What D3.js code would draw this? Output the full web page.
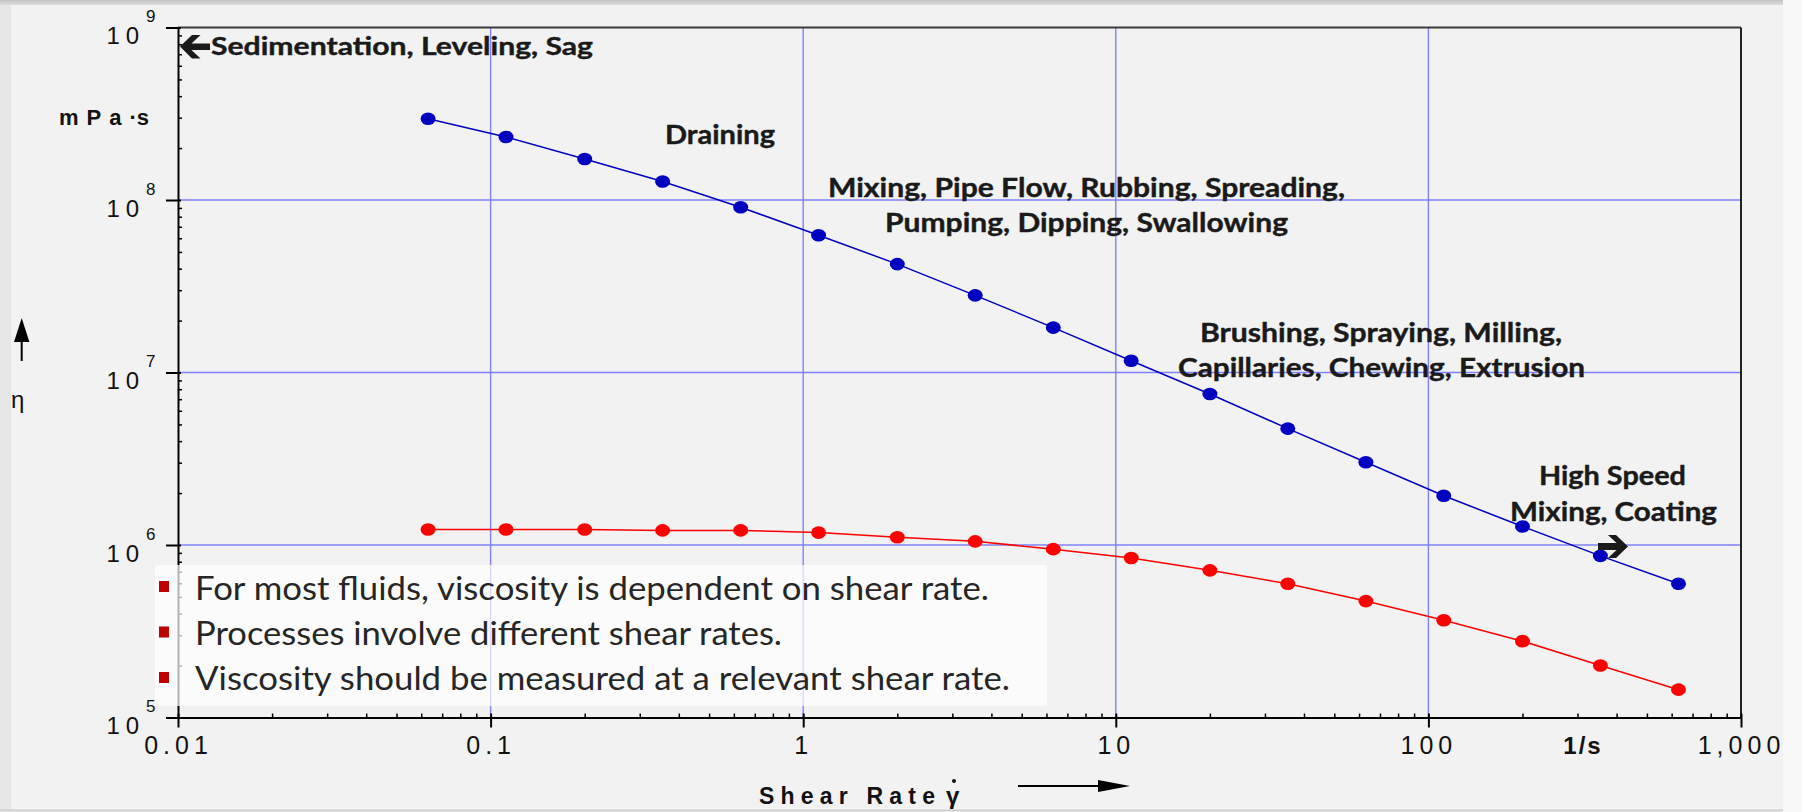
<!DOCTYPE html>
<html>
<head>
<meta charset="utf-8">
<script src="https://cdn.jsdelivr.net/npm/d3@7"></script>
<style>
    body { margin: 0; background: #f8f8f8; }
    svg { display: block; }
</style>
</head>
<body>
<svg id="chart" width="1802" height="812"></svg>
<script>
// shear rate (1/s) of the measuring points
const shearRate = [0.0631, 0.112, 0.2, 0.355, 0.631, 1.12, 2, 3.55, 6.31, 11.2, 20, 35.5, 63.1, 112, 200, 355, 631]
// viscosity in mPa·s
const viscosityBlue = [2.96e8, 2.32e8, 1.73e8, 1.28e8, 9.08e7, 6.25e7, 4.25e7, 2.8e7, 1.82e7, 1.17e7, 7.5e6, 4.73e6, 3.02e6, 1.93e6, 1.28e6, 8.65e5, 5.96e5]
const viscosityRed = [1.23e6, 1.23e6, 1.23e6, 1.215e6, 1.215e6, 1.18e6, 1.11e6, 1.05e6, 9.46e5, 8.4e5, 7.13e5, 5.96e5, 4.73e5, 3.66e5, 2.77e5, 2.0e5, 1.45e5]

const xTickValues = [0.01, 0.1, 1, 10, 100, 1000]
const xTickLabels = ['0.01', '0.1', '1', '10', '100', '1,000']
const yTickValues = [1e5, 1e6, 1e7, 1e8, 1e9]
const yTickExponents = ['5', '6', '7', '8', '9']

const processLabels = [
    'Sedimentation, Leveling, Sag',
    'Draining',
    'Mixing, Pipe Flow, Rubbing, Spreading,',
    'Pumping, Dipping, Swallowing',
    'Brushing, Spraying, Milling,',
    'Capillaries, Chewing, Extrusion',
    'High Speed',
    'Mixing, Coating'
]
const bulletPoints = [
    'For most fluids, viscosity is dependent on shear rate.',
    'Processes involve different shear rates.',
    'Viscosity should be measured at a relevant shear rate.'
]

const W = 1802
const H = 812
const margin = { left: 178, right: 61, top: 27.5, bottom: 94.5 }
const axisFont = '"Liberation Sans", Arial, sans-serif'
const noteFont = 'Lato, "Open Sans", sans-serif'

const svg = d3.select('#chart')

// slide background
const defs = svg.append('defs')
const grad = defs.append('linearGradient').attr('id', 'topband')
    .attr('x1', 0).attr('y1', 0).attr('x2', 0).attr('y2', 1)
grad.append('stop').attr('offset', '0%').attr('stop-color', '#c4c4c4')
grad.append('stop').attr('offset', '100%').attr('stop-color', '#dcdcdc')

svg.append('rect').attr('width', W).attr('height', H).attr('fill', '#f8f8f8')
svg.append('rect').attr('width', 1783).attr('height', 810).attr('fill', '#f2f2f2')
svg.append('rect').attr('width', 11).attr('height', 810).attr('fill', '#e6e6e6')
svg.append('rect').attr('width', 1783).attr('height', 5).attr('fill', 'url(#topband)')
svg.append('rect').attr('y', 809.5).attr('width', 1783).attr('height', 2).attr('fill', '#d0d0d0')

const x = d3.scaleLog().domain([0.01, 1000]).range([margin.left, W - margin.right])
const y = d3.scaleLog().domain([1e5, 1e9]).range([H - margin.bottom, margin.top])

// grid
const grid = svg.append('g').attr('stroke', '#8080ff').attr('stroke-width', 1.4)
grid.selectAll('.vgrid')
    .data(xTickValues.slice(1, -1))
    .join('line')
        .attr('x1', d => x(d)).attr('x2', d => x(d))
        .attr('y1', y(1e9)).attr('y2', y(1e5))
grid.selectAll('.hgrid')
    .data(yTickValues.slice(1, -1))
    .join('line')
        .attr('x1', x(0.01)).attr('x2', x(1000))
        .attr('y1', d => y(d)).attr('y2', d => y(d))

// frame top / right
svg.append('line')
    .attr('x1', x(0.01)).attr('x2', x(1000)).attr('y1', y(1e9)).attr('y2', y(1e9))
    .attr('stroke', '#3a3a3a').attr('stroke-width', 2)
svg.append('line')
    .attr('x1', x(1000)).attr('x2', x(1000)).attr('y1', y(1e9)).attr('y2', y(1e5))
    .attr('stroke', '#222').attr('stroke-width', 2)

// minor ticks, 2..9 in each decade
const minorX = x.ticks().filter(d => !xTickValues.includes(d))
const minorY = y.ticks().filter(d => !yTickValues.includes(d))

const gxMinor = svg.append('g')
    .attr('transform', `translate(0,${y(1e5)})`)
    .call(d3.axisBottom(x).tickValues(minorX).tickFormat('').tickSizeInner(-4).tickSizeOuter(0))
gxMinor.select('.domain').remove()
gxMinor.selectAll('.tick line').attr('stroke', '#000').attr('stroke-width', 1.5)

const gyMinor = svg.append('g')
    .attr('transform', `translate(${x(0.01)},0)`)
    .call(d3.axisLeft(y).tickValues(minorY).tickFormat('').tickSizeInner(-4).tickSizeOuter(0))
gyMinor.select('.domain').remove()
gyMinor.selectAll('.tick line').attr('stroke', '#000').attr('stroke-width', 1.5)

// x axis
const gx = svg.append('g')
    .attr('transform', `translate(0,${y(1e5)})`)
    .call(d3.axisBottom(x)
        .tickValues(xTickValues)
        .tickFormat((d, i) => xTickLabels[i])
        .tickSizeInner(10).tickSizeOuter(0))
gx.select('.domain').attr('stroke', '#000').attr('stroke-width', 2)
gx.selectAll('.tick line').attr('y1', -4).attr('stroke', '#000').attr('stroke-width', 2)
gx.selectAll('.tick text')
    .attr('y', 36.5).attr('dy', null)
    .attr('fill', '#111')
    .style('font-family', axisFont).style('font-size', '25px').style('letter-spacing', '5px')

// y axis
const gy = svg.append('g')
    .attr('transform', `translate(${x(0.01)},0)`)
    .call(d3.axisLeft(y).tickValues(yTickValues).tickFormat('').tickSizeInner(12).tickSizeOuter(0))
gy.select('.domain').attr('stroke', '#000').attr('stroke-width', 2)
gy.selectAll('.tick line').attr('x1', 3).attr('stroke', '#000').attr('stroke-width', 2)

const yLabels = svg.append('g').attr('fill', '#111').style('font-family', axisFont)
yLabels.selectAll('.base')
    .data(yTickValues)
    .join('text')
        .attr('x', 106.5).attr('y', d => y(d) + 16.5)
        .style('font-size', '24px').style('letter-spacing', '6px')
        .text('10')
yLabels.selectAll('.exp')
    .data(yTickValues)
    .join('text')
        .attr('x', 146).attr('y', d => y(d) - 5.5)
        .style('font-size', '17px')
        .text((d, i) => yTickExponents[i])

// series
const line = d3.line().x((d, i) => x(shearRate[i])).y(d => y(d))
const series = [
    { values: viscosityBlue, color: '#0000c0' },
    { values: viscosityRed, color: '#ff0000' }
]
series.forEach(s => {
    svg.append('path')
        .datum(s.values)
        .attr('d', line)
        .attr('fill', 'none')
        .attr('stroke', s.color)
        .attr('stroke-width', 1.5)
    svg.append('g').selectAll('ellipse')
        .data(s.values)
        .join('ellipse')
            .attr('cx', (d, i) => x(shearRate[i]))
            .attr('cy', d => y(d))
            .attr('rx', 7.5).attr('ry', 6.3)
            .attr('fill', s.color)
})

// text box with bullets
svg.append('rect')
    .attr('x', 155).attr('y', 565).attr('width', 892).attr('height', 141)
    .attr('fill', '#fff').attr('fill-opacity', 0.7)
const bulletWidths = [794, 587, 815]
const bullets = svg.append('g')
bullets.selectAll('rect')
    .data(bulletPoints)
    .join('rect')
        .attr('x', 159).attr('y', (d, i) => 581 + i * 45.5)
        .attr('width', 10).attr('height', 11)
        .attr('fill', '#c00000')
bullets.selectAll('text')
    .data(bulletPoints)
    .join('text')
        .attr('x', 195).attr('y', (d, i) => 600 + i * 45)
        .attr('textLength', (d, i) => bulletWidths[i])
        .attr('lengthAdjust', 'spacingAndGlyphs')
        .attr('fill', '#262626')
        .style('font-family', noteFont).style('font-size', '32px')
        .text(d => d)

// process annotations
const notePlaces = [
    { x: 211, y: 55, w: 382, size: 24 },
    { x: 665, y: 143.5, w: 110, size: 26 },
    { x: 828, y: 196.7, w: 517, size: 26 },
    { x: 885, y: 232.3, w: 403, size: 26 },
    { x: 1200, y: 341.7, w: 362, size: 26 },
    { x: 1178, y: 377.3, w: 407, size: 26 },
    { x: 1539, y: 485, w: 147, size: 26 },
    { x: 1510, y: 520.5, w: 207, size: 26 }
]
svg.append('g').selectAll('text')
    .data(processLabels)
    .join('text')
        .attr('x', (d, i) => notePlaces[i].x)
        .attr('y', (d, i) => notePlaces[i].y)
        .attr('textLength', (d, i) => notePlaces[i].w)
        .attr('lengthAdjust', 'spacingAndGlyphs')
        .attr('fill', '#1a1a1a')
        .attr('stroke', '#1a1a1a').attr('stroke-width', 0.4)
        .style('font-family', noteFont).style('font-weight', 700)
        .style('font-size', (d, i) => notePlaces[i].size + 'px')
        .text(d => d)

// bold arrows next to the outer annotations
svg.append('path')
    .attr('d', 'M180,46.5 L192,35 L200.5,35 L191.5,43.5 L210,43.5 L210,50 L191.5,50 L200.5,58.5 L192,58.5 Z')
    .attr('fill', '#1a1a1a')
svg.append('path')
    .attr('d', 'M1628,546.5 L1616,535 L1608,535 L1616.5,543 L1598,543 L1598,550 L1616.5,550 L1608,558 L1616,558 Z')
    .attr('fill', '#1a1a1a')

// axis titles
svg.append('text')
    .attr('x', 1583).attr('y', 754)
    .attr('text-anchor', 'middle')
    .attr('fill', '#111')
    .style('font-family', axisFont).style('font-weight', 700).style('font-size', '24px')
    .style('letter-spacing', '2px')
    .text('1/s')

svg.append('text')
    .attr('x', 759).attr('y', 804)
    .attr('textLength', 176).attr('lengthAdjust', 'spacing')
    .attr('fill', '#111')
    .style('font-family', axisFont).style('font-weight', 700).style('font-size', '23px')
    .text('Shear Rate')
svg.append('text')
    .attr('x', 946).attr('y', 804)
    .attr('fill', '#111')
    .style('font-family', axisFont).style('font-weight', 700).style('font-size', '24px')
    .text('γ')
svg.append('circle').attr('cx', 954).attr('cy', 781).attr('r', 2).attr('fill', '#111')
svg.append('line')
    .attr('x1', 1018).attr('x2', 1100).attr('y1', 786).attr('y2', 786)
    .attr('stroke', '#000').attr('stroke-width', 2)
svg.append('path').attr('d', 'M1098,780 L1130,786 L1098,792 Z').attr('fill', '#000')

const unit = svg.append('text')
    .attr('x', 59).attr('y', 125)
    .attr('fill', '#111')
    .style('font-family', axisFont).style('font-weight', 700).style('font-size', '22px')
unit.append('tspan').style('letter-spacing', '8px').text('mPa')
unit.append('tspan').text('·s')

svg.append('text')
    .attr('x', 11).attr('y', 408)
    .attr('fill', '#111')
    .style('font-family', axisFont).style('font-size', '24px')
    .text('η')
svg.append('line')
    .attr('x1', 21.7).attr('x2', 21.7).attr('y1', 340).attr('y2', 361)
    .attr('stroke', '#000').attr('stroke-width', 2)
svg.append('path').attr('d', 'M21.7,318 L14,342 L29.4,342 Z').attr('fill', '#000')
</script>
</body>
</html>
